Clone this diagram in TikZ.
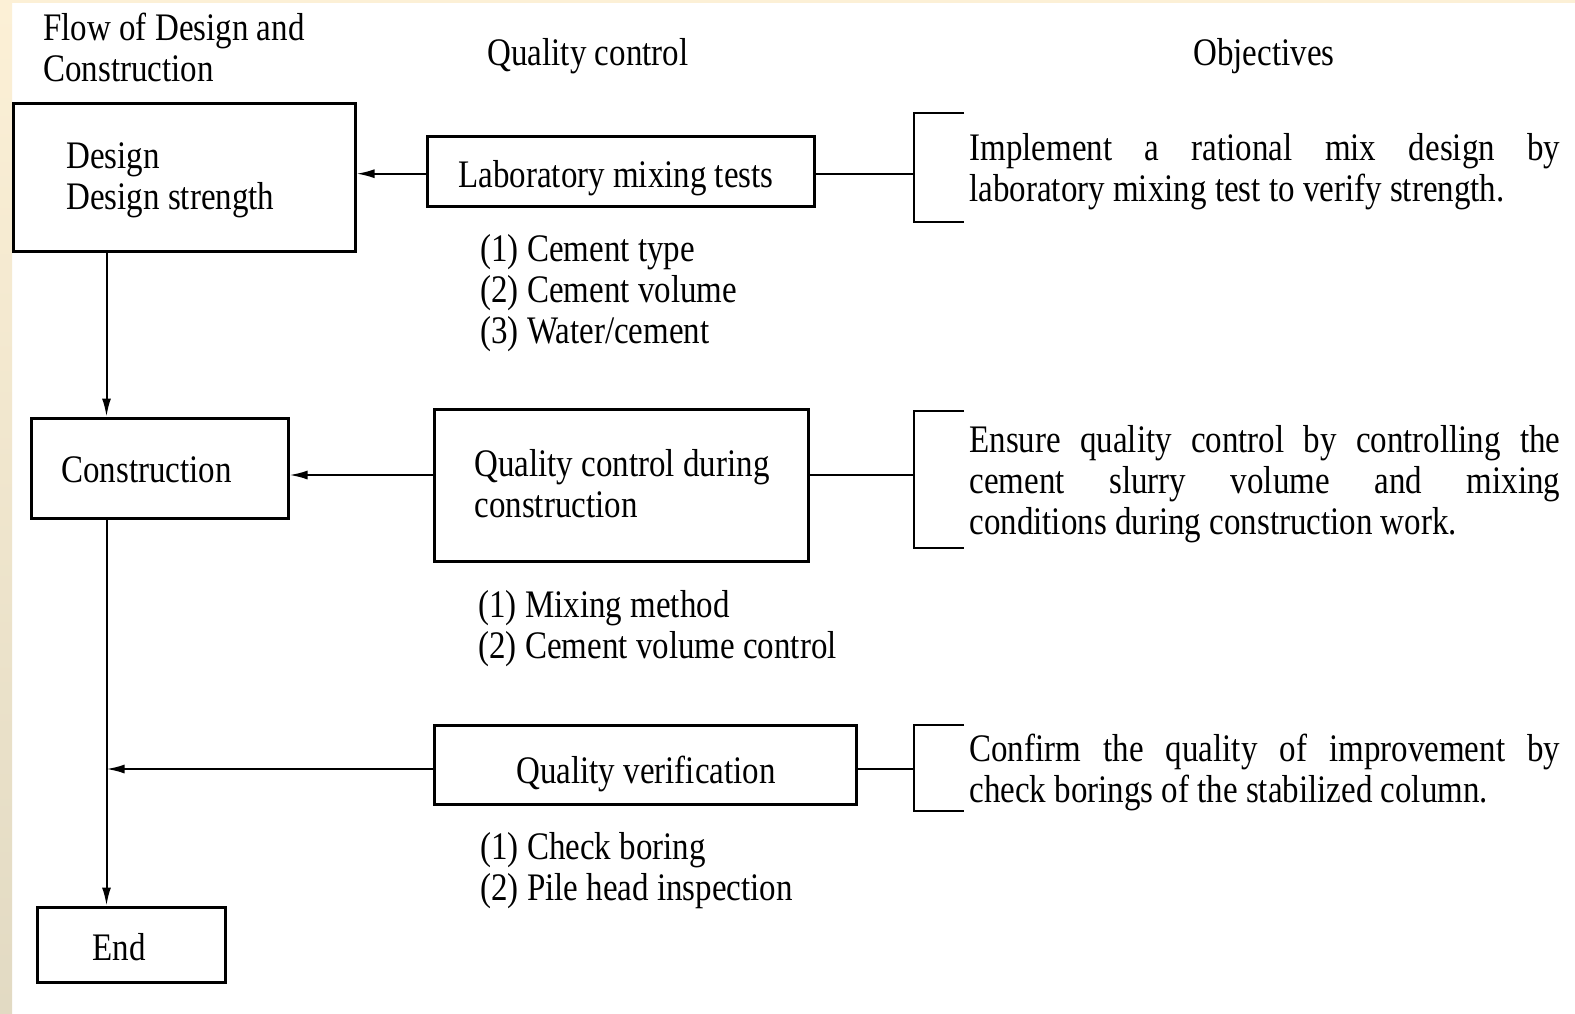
\documentclass[tikz,border=0pt]{standalone}
\usepackage{fontspec}
\setmainfont{Liberation Serif}[FakeStretch=0.846]
\usetikzlibrary{arrows.meta}
\definecolor{creamtop}{HTML}{FCF0D6}
\definecolor{creambot}{HTML}{E2DAC3}
\begin{document}
\begin{tikzpicture}[x=0.5pt,y=-0.5pt,
  every node/.style={font=\fontsize{19.5pt}{20.5pt}\selectfont, inner sep=0pt},
  box/.style={draw, line width=1.5pt, rectangle},
  ln/.style={line width=1pt},
  arr/.style={line width=1pt, -{Latex[length=9pt,width=4.5pt]}},
  brk/.style={line width=1pt},
  txt/.style={anchor=base},
  mtxt/.style={anchor=base west, text width=250pt, align=justify},
  obj/.style={anchor=base west, text width=295.5pt, align=justify}]
% background
\fill[white] (0,0) rectangle (1575,1013);
\shade[top color=creamtop, bottom color=creambot] (0,0) rectangle (12,1013);
\fill[creamtop] (12,0) rectangle (1575,3);
\useasboundingbox (0,0) rectangle (1575,1013);

% headers
\node[mtxt] (h1) at (43,40) {Flow of Design and\\Construction};
\node[txt] (h2) at (588,65) {Quality control};
\node[txt] (h3) at (1264,65) {Objectives};

% left flow boxes
\node[box, minimum width=171pt, minimum height=74pt] (design) at (184,177) {};
\node[box, minimum width=128.5pt, minimum height=50pt] (con) at (159.5,468) {};
\node[box, minimum width=94pt, minimum height=37.5pt] (end) at (131,944.5) {};
\node[mtxt] (designt) at (66,168) {Design\\Design strength};
\node[anchor=base west] (cont) at (61,482) {Construction};
\node[anchor=base west] (endt) at (92,960) {End};

% quality control boxes
\node[box, minimum width=193.5pt, minimum height=35pt] (lab) at (620.5,171.7) {};
\node[box, minimum width=187pt, minimum height=76pt] (qc) at (621,485) {};
\node[box, minimum width=211pt, minimum height=39.5pt] (qv) at (645,764.5) {};
\node[txt] (labt) at (616,187) {Laboratory mixing tests};
\node[mtxt] (qct) at (474,476) {Quality control during\\construction};
\node[txt] (qvt) at (646,783) {Quality verification};

% lists
\node[mtxt] (l1) at (480,261) {(1) Cement type\\(2) Cement volume\\(3) Water/cement};
\node[mtxt] (l2) at (478,617) {(1) Mixing method\\(2) Cement volume control};
\node[mtxt] (l3) at (480,859) {(1) Check boring\\(2) Pile head inspection};

% connectors on left
\coordinate (vx) at (106.5,0);
\coordinate (a2) at (0,475);
\coordinate (a3) at (0,769);
\draw[arr] (design.south -| vx) -- (con.north -| vx);
\draw[arr] (con.south -| vx) -- (end.north -| vx);
\draw[arr] ([yshift=-1pt]lab.west) -- ([yshift=-1pt]lab.west -| design.east);
\draw[arr] (qc.west |- a2) -- (con.east |- a2);
\draw[arr] (qv.west |- a3) -- (vx |- a3);

% brackets
\coordinate (k1) at (914,174);
\coordinate (k2) at (914,475);
\coordinate (k3) at (914,769);
\draw[brk] (964,113) -- (914,113) -- (914,222) -- (964,222);
\draw[brk] (964,411) -- (914,411) -- (914,548) -- (964,548);
\draw[brk] (964,725) -- (914,725) -- (914,811) -- (964,811);
\draw[ln] (lab.east |- k1) -- (k1);
\draw[ln] (qc.east |- k2) -- (k2);
\draw[ln] (qv.east |- k3) -- (k3);

% objectives
\node[obj] (o1) at (969,160) {Implement a rational mix design by\linebreak laboratory mixing test to verify strength.};
\node[obj] (o2) at (969,452) {Ensure quality control by controlling the\linebreak cement slurry volume and mixing\linebreak conditions during construction work.};
\node[obj] (o3) at (969,761) {Confirm the quality of improvement by\linebreak check borings of the stabilized column.};
\end{tikzpicture}
\end{document}
